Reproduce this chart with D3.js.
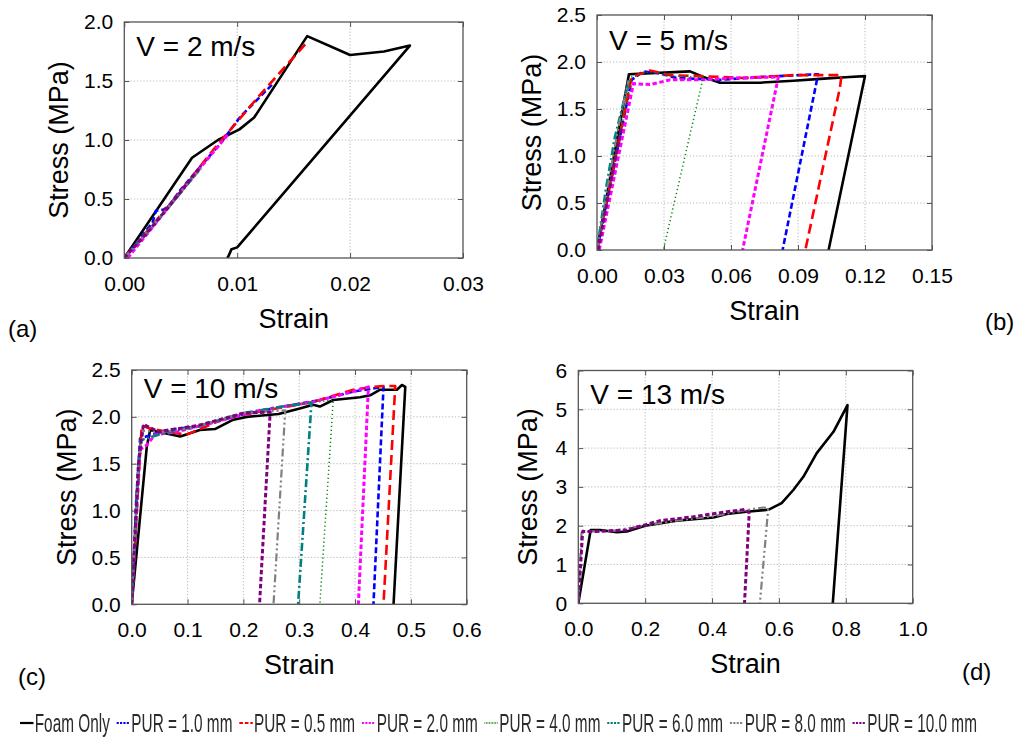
<!DOCTYPE html>
<html>
<head>
<meta charset="utf-8">
<script src="https://cdn.jsdelivr.net/npm/d3@7"></script>
<style>
  html, body { margin: 0; padding: 0; background: #fff; }
  svg { display: block; font-family: "Liberation Sans", Arial, sans-serif; }
</style>
</head>
<body>
<svg id="chart" width="1017" height="738"></svg>
<script>
// ---- series names (legend order) ----
const seriesNames = ["Foam Only", "PUR = 1.0 mm", "PUR = 0.5 mm", "PUR = 2.0 mm",
                     "PUR = 4.0 mm", "PUR = 6.0 mm", "PUR = 8.0 mm", "PUR = 10.0 mm"];

// ---- V = 2 m/s : [strain, stress MPa] ----
const v2Foam  = [[0,0],[0.006,0.85],[0.0083,1.0],[0.0102,1.09],[0.0115,1.19],[0.0162,1.88],[0.0200,1.72],[0.0230,1.75],[0.0253,1.80],[0.0100,0.09],[0.0095,0.075],[0.0092,0.01],[0.0091,0]];
const v2Pur1  = [[0,0],[0.0025,0.30],[0.0028,0.40],[0.0035,0.41],[0.0040,0.45],[0.0050,0.58],[0.0067,0.77],[0.0085,0.97],[0.0103,1.20],[0.0132,1.48]];
const v2Pur05 = [[0,0],[0.004,0.45],[0.008,0.93],[0.012,1.38],[0.0162,1.83]];
const v2Pur2  = [[0.0003,0],[0.003,0.32],[0.006,0.68],[0.0093,1.06]];
const v2Pur4  = [[0,0],[0.003,0.34],[0.0062,0.71]];
const v2Pur6  = [[0,0],[0.0035,0.38],[0.0066,0.74]];
const v2Pur8  = [[0,0],[0.003,0.33],[0.0068,0.76]];
const v2Pur10 = [[0,0],[0.002,0.21],[0.0045,0.50],[0.0068,0.78]];

// ---- V = 5 m/s ----
const v5Foam  = [[0,0],[0.0143,1.87],[0.0417,1.90],[0.0476,1.84],[0.0551,1.78],[0.073,1.78],[0.088,1.80],[0.100,1.82],[0.113,1.84],[0.120,1.85],[0.1037,0]];
const v5Pur1  = [[0,0],[0.0155,1.81],[0.0207,1.90],[0.028,1.88],[0.0356,1.83],[0.055,1.81],[0.073,1.84],[0.099,1.87],[0.0831,0]];
const v5Pur05 = [[0,0],[0.0155,1.84],[0.0237,1.91],[0.0327,1.86],[0.046,1.85],[0.0655,1.83],[0.088,1.86],[0.1095,1.86],[0.1088,1.73],[0.0933,0]];
const v5Pur2  = [[0.001,0],[0.0163,1.77],[0.0237,1.76],[0.0327,1.81],[0.0476,1.81],[0.061,1.83],[0.0812,1.84],[0.0652,0]];
const v5Pur4  = [[0,0],[0.0155,1.84],[0.0222,1.89],[0.028,1.88],[0.034,1.85],[0.0476,1.84],[0.0297,0]];
const v5Pur6  = [[0,0],[0.004,0.65],[0.008,1.2],[0.0145,1.82]];
const v5Pur8  = [[0,0],[0.005,0.7],[0.0095,1.3],[0.014,1.8]];
const v5Pur10 = [[0.0005,0],[0.004,0.45],[0.008,0.95],[0.011,1.3]];

// ---- V = 10 m/s ----
const v10Foam  = [[0,0],[0.027,1.68],[0.033,1.86],[0.087,1.79],[0.122,1.86],[0.149,1.87],[0.182,1.97],[0.206,2.0],[0.263,2.03],[0.301,2.09],[0.325,2.13],[0.337,2.11],[0.361,2.18],[0.409,2.21],[0.427,2.23],[0.445,2.29],[0.475,2.29],[0.484,2.34],[0.49,2.32],[0.469,0]];
const v10Pur1  = [[0,0],[0.008,1.1],[0.015,1.77],[0.063,1.86],[0.122,1.90],[0.194,2.02],[0.272,2.11],[0.337,2.18],[0.397,2.27],[0.451,2.32],[0.433,0]];
const v10Pur05 = [[0,0],[0.012,1.3],[0.018,1.91],[0.03,1.88],[0.063,1.84],[0.0985,1.81],[0.17,1.99],[0.242,2.07],[0.325,2.16],[0.397,2.29],[0.433,2.32],[0.451,2.33],[0.472,2.33],[0.451,0]];
const v10Pur2  = [[0,0],[0.008,0.9],[0.015,1.65],[0.027,1.70],[0.042,1.81],[0.081,1.84],[0.152,1.95],[0.23,2.07],[0.325,2.16],[0.397,2.27],[0.424,2.32],[0.406,0]];
const v10Pur4  = [[0,0],[0.015,1.75],[0.06,1.84],[0.12,1.90],[0.2,2.04],[0.28,2.12],[0.361,2.18],[0.337,0]];
const v10Pur6  = [[0,0],[0.01,1.2],[0.016,1.75],[0.06,1.83],[0.12,1.90],[0.2,2.04],[0.28,2.12],[0.322,2.15],[0.298,0]];
const v10Pur8  = [[0,0],[0.012,1.5],[0.02,1.85],[0.06,1.84],[0.12,1.90],[0.2,2.04],[0.275,2.07],[0.254,0]];
const v10Pur10 = [[0,0],[0.012,1.5],[0.021,1.92],[0.048,1.84],[0.12,1.91],[0.2,2.04],[0.248,2.05],[0.229,0]];

// ---- V = 13 m/s ----
const v13Foam  = [[0,0],[0.037,1.89],[0.065,1.89],[0.115,1.83],[0.145,1.85],[0.2,2.0],[0.294,2.13],[0.404,2.21],[0.444,2.30],[0.503,2.36],[0.568,2.41],[0.608,2.58],[0.643,2.92],[0.673,3.26],[0.713,3.87],[0.763,4.42],[0.805,5.11],[0.761,0]];
const v13Pur8  = [[0,0],[0.01,1.89],[0.02,1.85],[0.1,1.86],[0.2,2.01],[0.3,2.14],[0.4,2.24],[0.5,2.40],[0.553,2.47],[0.568,2.45],[0.543,0]];
const v13Pur10 = [[0,0],[0.013,1.85],[0.045,1.85],[0.145,1.89],[0.244,2.13],[0.344,2.23],[0.444,2.36],[0.5,2.42],[0.511,2.32],[0.497,0]];

// ---- tick labels ----
const xTicksA = ["0.00", "0.01", "0.02", "0.03"];
const yTicksA = ["0.0", "0.5", "1.0", "1.5", "2.0"];
const xTicksB = ["0.00", "0.03", "0.06", "0.09", "0.12", "0.15"];
const yTicksB = ["0.0", "0.5", "1.0", "1.5", "2.0", "2.5"];
const xTicksC = ["0.0", "0.1", "0.2", "0.3", "0.4", "0.5", "0.6"];
const yTicksC = ["0.0", "0.5", "1.0", "1.5", "2.0", "2.5"];
const xTicksD = ["0.0", "0.2", "0.4", "0.6", "0.8", "1.0"];
const yTicksD = ["0", "1", "2", "3", "4", "5", "6"];

// ---- line styles, one per series ----
const seriesColors = ["#000000", "#0000ff", "#ff0000", "#ff00ff", "#008000", "#008080", "#808080", "#800080"];
const seriesDash   = [null, "6,3", "10,5", "4.5,2.5", "1.2,2.8", "8,3,2,3", "8,3,2,3,2,3", "4.5,2.5"];
const seriesWidth  = [2.6, 2.6, 2.6, 3, 1.5, 2.6, 2.2, 3];

const panels = [
  { tag: "(a)", speed: "V = 2 m/s", box: [124.3, 22, 463, 258],
    xt: xTicksA, yt: yTicksA,
    series: [v2Foam, v2Pur1, v2Pur05, v2Pur2, v2Pur4, v2Pur6, v2Pur8, v2Pur10],
    yTitleDx: -56, tagPos: [8, 337], speedDy: 34 },
  { tag: "(b)", speed: "V = 5 m/s", box: [597, 15, 932, 250],
    xt: xTicksB, yt: yTicksB,
    series: [v5Foam, v5Pur1, v5Pur05, v5Pur2, v5Pur4, v5Pur6, v5Pur8, v5Pur10],
    yTitleDx: -56, tagPos: [985, 330], speedDy: 35 },
  { tag: "(c)", speed: "V = 10 m/s", box: [131.7, 370, 466.7, 604.3],
    xt: xTicksC, yt: yTicksC,
    series: [v10Foam, v10Pur1, v10Pur05, v10Pur2, v10Pur4, v10Pur6, v10Pur8, v10Pur10],
    yTitleDx: -56, tagPos: [18, 685], speedDy: 28 },
  { tag: "(d)", speed: "V = 13 m/s", box: [578.3, 370.5, 912.7, 603.3],
    xt: xTicksD, yt: yTicksD,
    series: [v13Foam, null, null, null, null, null, v13Pur8, v13Pur10],
    yTitleDx: -41, tagPos: [962, 680], speedDy: 33 }
];

const svg = d3.select("#chart");

panels.forEach((p, pi) => {
  const [x0, y0, x1, y1] = p.box;
  const xVals = p.xt.map(Number), yVals = p.yt.map(Number);
  const x = d3.scaleLinear().domain([xVals[0], xVals[xVals.length - 1]]).range([x0, x1]);
  const y = d3.scaleLinear().domain([yVals[0], yVals[yVals.length - 1]]).range([y1, y0]);
  const g = svg.append("g");

  // dotted grid
  g.append("g").selectAll("line").data(xVals.slice(1, -1)).join("line")
    .attr("x1", d => x(d)).attr("x2", d => x(d)).attr("y1", y0).attr("y2", y1)
    .attr("stroke", "#b8b8b8").attr("stroke-width", 1).attr("stroke-dasharray", "1.2,2");
  g.append("g").selectAll("line").data(yVals.slice(1, -1)).join("line")
    .attr("x1", x0).attr("x2", x1).attr("y1", d => y(d)).attr("y2", d => y(d))
    .attr("stroke", "#b8b8b8").attr("stroke-width", 1).attr("stroke-dasharray", "1.2,2");

  // axes with inward ticks
  const fmtX = (d) => p.xt[xVals.indexOf(d)];
  const fmtY = (d) => p.yt[yVals.indexOf(d)];
  const axB = g.append("g").attr("transform", `translate(0,${y1})`)
    .call(d3.axisBottom(x).tickValues(xVals).tickFormat(fmtX).tickSizeInner(-5).tickSizeOuter(0).tickPadding(18));
  const axL = g.append("g").attr("transform", `translate(${x0},0)`)
    .call(d3.axisLeft(y).tickValues(yVals).tickFormat(fmtY).tickSizeInner(-5).tickSizeOuter(0).tickPadding(11));
  const axT = g.append("g").attr("transform", `translate(0,${y0})`)
    .call(d3.axisTop(x).tickValues(xVals).tickFormat("").tickSizeInner(-5).tickSizeOuter(0));
  const axR = g.append("g").attr("transform", `translate(${x1},0)`)
    .call(d3.axisRight(y).tickValues(yVals).tickFormat("").tickSizeInner(-5).tickSizeOuter(0));
  [axB, axL, axT, axR].forEach(a => {
    a.select(".domain").remove();
    a.selectAll(".tick line").attr("stroke", "#555").attr("stroke-width", 1);
    a.selectAll("text").attr("font-size", 21).attr("fill", "#000")
      .attr("font-family", "'Liberation Sans', Arial, sans-serif");
  });

  // curves
  const clipId = "clip" + pi;
  g.append("clipPath").attr("id", clipId).append("rect")
    .attr("x", x0).attr("y", y0 - 2).attr("width", x1 - x0).attr("height", y1 - y0 + 2);
  const line = d3.line().x(d => x(d[0])).y(d => y(d[1]));
  const curves = g.append("g").attr("clip-path", `url(#${clipId})`);
  p.series.forEach((s, si) => {
    if (!s) return;
    curves.append("path").attr("d", line(s))
      .attr("fill", "none")
      .attr("stroke", seriesColors[si])
      .attr("stroke-width", seriesWidth[si])
      .attr("stroke-dasharray", seriesDash[si])
      .attr("stroke-linejoin", "round");
  });

  // frame
  g.append("rect").attr("x", x0).attr("y", y0).attr("width", x1 - x0).attr("height", y1 - y0)
    .attr("fill", "none").attr("stroke", "#555").attr("stroke-width", 1.3);

  // speed label
  g.append("text").attr("x", x0 + 12).attr("y", y0 + p.speedDy)
    .attr("font-size", 28).text(p.speed);

  // axis titles
  g.append("text").attr("x", (x0 + x1) / 2).attr("y", y1 + 70)
    .attr("text-anchor", "middle").attr("font-size", 27).text("Strain");
  g.append("text").attr("transform", `translate(${x0 + p.yTitleDx},${(y0 + y1) / 2}) rotate(-90)`)
    .attr("text-anchor", "middle").attr("font-size", 27).text("Stress (MPa)");

  // panel tag
  g.append("text").attr("x", p.tagPos[0]).attr("y", p.tagPos[1])
    .attr("font-size", 24).text(p.tag);
});

// ---- legend (condensed, slightly soft) ----
const defs = svg.append("defs");
defs.append("filter").attr("id", "soft").append("feGaussianBlur").attr("stdDeviation", 0.55);
const leg = svg.append("g").attr("filter", "url(#soft)");
const legY = 723, segLen = 22;
let cx = 0;
seriesNames.forEach((name, i) => {
  const it = leg.append("g");
  it.append("line").attr("x1", cx).attr("x2", cx + segLen).attr("y1", legY).attr("y2", legY)
    .attr("stroke", seriesColors[i]).attr("stroke-width", i === 0 ? 2.2 : 2)
    .attr("stroke-dasharray", i === 0 ? null : (i === 2 ? "6,3" : (i === 4 ? "1,1.5" : "3.5,2")));
  const t = it.append("text").attr("x", cx + segLen + 2).attr("y", legY + 9.5)
    .attr("font-family", "'Liberation Sans Narrow', 'Arial Narrow', sans-serif")
    .attr("font-size", 25).attr("fill", "#2a2a2a").text(name);
  const w = t.node().getComputedTextLength();
  cx += segLen + 2 + w + 11;
});
const total = cx - 11;
const sx = (977 - 20) / total;
leg.attr("transform", `translate(20,0) scale(${sx},1)`);
</script>
</body>
</html>
